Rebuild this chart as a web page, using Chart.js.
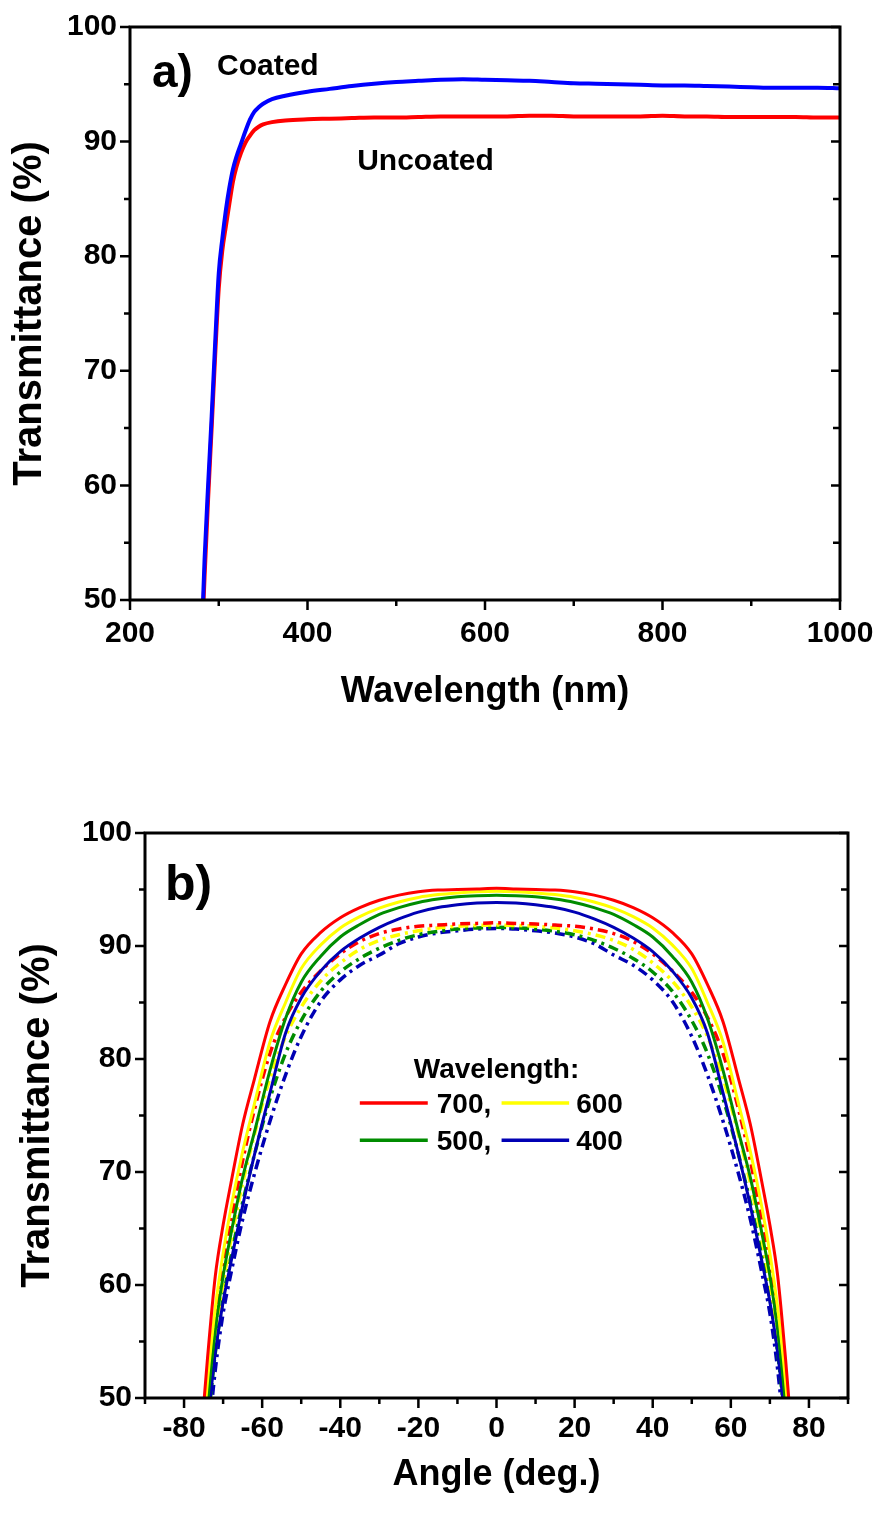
<!DOCTYPE html>
<html>
<head>
<meta charset="utf-8">
<script src="https://cdn.jsdelivr.net/npm/chart.js@4.4.1/dist/chart.umd.min.js"></script>
<style>
html, body { margin: 0; padding: 0; background: #fff; }
#wrap { position: relative; width: 879px; height: 1515px; }
canvas { position: absolute; left: 0; }
#chartA { top: 0; }
#chartB { top: 740px; }
</style>
</head>
<body>
<div id="wrap">
  <canvas id="chartA" width="879" height="740"></canvas>
  <canvas id="chartB" width="879" height="775"></canvas>
</div>
<script>
// panel a) - transmittance vs wavelength
var wavelengths = [280, 284, 288, 292, 296, 300, 304, 308, 312, 316, 320, 325, 330, 335, 340, 345, 350, 360, 375, 400, 425,
    450, 475, 500, 525, 550, 575, 600, 625, 650, 675, 700, 725, 750, 775, 800, 825, 850, 875, 900, 925, 950, 975, 1000];
var coated = [45, 53.5, 60, 66, 72.5, 78.5, 81.5, 84.0, 86.0, 87.6, 88.7, 89.8, 90.9, 91.9, 92.6, 93.0, 93.3, 93.7, 94.0, 94.35, 94.6,
    94.85, 95.05, 95.2, 95.3, 95.4, 95.45, 95.4, 95.35, 95.3, 95.2, 95.1, 95.05, 95.0, 94.95, 94.9, 94.9, 94.85, 94.8, 94.75, 94.7, 94.7, 94.7, 94.65];
var uncoated = [44.5, 52, 58.8, 65, 71.4, 77.2, 80.5, 82.6, 84.6, 86.5, 87.8, 89.0, 89.9, 90.5, 91.0, 91.3, 91.5, 91.7, 91.85, 91.95, 92.0,
    92.05, 92.1, 92.1, 92.15, 92.2, 92.2, 92.2, 92.2, 92.25, 92.25, 92.2, 92.2, 92.2, 92.2, 92.25, 92.2, 92.2, 92.15, 92.15, 92.15, 92.15, 92.1, 92.1];
var wlTicks = [200, 400, 600, 800, 1000];
var wlMinor = [300, 500, 700, 900];

// panel b) - transmittance vs angle, solid = coated, dash-dot = uncoated
var angles = [-78, -76, -74, -72, -70, -68, -65, -62, -58, -54, -50, -45, -40, -35, -30, -25, -20, -15, -10, -5, 0,
    5, 10, 15, 20, 25, 30, 35, 40, 45, 50, 54, 58, 62, 65, 68, 70, 72, 74, 76, 78];
var coated700 = [36, 45, 53.5, 60.8, 65.3, 69.0, 74.2, 78.2, 83.3, 86.6, 89.3, 91.2, 92.5, 93.4, 94.05, 94.5, 94.8, 94.95, 95.0, 95.05, 95.1,
    95.05, 95.0, 94.95, 94.8, 94.5, 94.05, 93.4, 92.5, 91.2, 89.3, 86.6, 83.3, 78.2, 74.2, 69.0, 65.3, 60.8, 53.5, 45, 36];
var coated600 = [35, 43, 51.5, 58.0, 62.8, 66.8, 71.8, 76.0, 81.5, 85.0, 88.0, 90.1, 91.6, 92.6, 93.35, 93.9, 94.3, 94.55, 94.7, 94.8, 94.85,
    94.8, 94.7, 94.55, 94.3, 93.9, 93.35, 92.6, 91.6, 90.1, 88.0, 85.0, 81.5, 76.0, 71.8, 66.8, 62.8, 58.0, 51.5, 43, 35];
var coated500 = [33, 41, 49.5, 56.0, 60.8, 64.5, 69.5, 73.5, 79.0, 83.6, 86.8, 89.1, 90.8, 91.9, 92.8, 93.4, 93.85, 94.15, 94.35, 94.45, 94.5,
    94.45, 94.35, 94.15, 93.85, 93.4, 92.8, 91.9, 90.8, 89.1, 86.8, 83.6, 79.0, 73.5, 69.5, 64.5, 60.8, 56.0, 49.5, 41, 33];
var coated400 = [32, 40, 47.5, 54.0, 58.5, 62.0, 67.0, 71.5, 77.0, 82.3, 85.4, 87.8, 89.5, 90.7, 91.65, 92.4, 93.0, 93.4, 93.65, 93.8, 93.85,
    93.8, 93.65, 93.4, 93.0, 92.4, 91.65, 90.7, 89.5, 87.8, 85.4, 82.3, 77.0, 71.5, 67.0, 62.0, 58.5, 54.0, 47.5, 40, 32];
var bare700 = [34, 42.5, 50.5, 56.8, 61.5, 65.5, 71.0, 75.5, 80.5, 83.7, 85.9, 87.8, 89.3, 90.4, 91.1, 91.5, 91.75, 91.85, 91.95, 92.0, 92.05,
    92.0, 91.95, 91.85, 91.75, 91.5, 91.1, 90.4, 89.3, 87.8, 85.9, 83.7, 80.5, 75.5, 71.0, 65.5, 61.5, 56.8, 50.5, 42.5, 34];
var bare600 = [33, 41, 49.0, 55.5, 60.2, 64.0, 69.0, 73.3, 78.3, 82.0, 84.6, 86.9, 88.5, 89.7, 90.5, 91.0, 91.35, 91.6, 91.75, 91.82, 91.85,
    91.82, 91.75, 91.6, 91.35, 91.0, 90.5, 89.7, 88.5, 86.9, 84.6, 82.0, 78.3, 73.3, 69.0, 64.0, 60.2, 55.5, 49.0, 41, 33];
var bare500 = [31.5, 39.5, 47.3, 54.0, 58.8, 62.5, 67.3, 71.5, 76.5, 80.5, 83.4, 86.0, 87.7, 88.9, 89.8, 90.5, 91.0, 91.3, 91.5, 91.6, 91.65,
    91.6, 91.5, 91.3, 91.0, 90.5, 89.8, 88.9, 87.7, 86.0, 83.4, 80.5, 76.5, 71.5, 67.3, 62.5, 58.8, 54.0, 47.3, 39.5, 31.5];
var bare400 = [30, 38, 45.5, 52.5, 57.5, 61.0, 65.8, 69.8, 74.5, 78.6, 82.0, 85.1, 87.0, 88.3, 89.2, 90.2, 90.8, 91.15, 91.35, 91.5, 91.55,
    91.5, 91.35, 91.15, 90.8, 90.2, 89.2, 88.3, 87.0, 85.1, 82.0, 78.6, 74.5, 69.8, 65.8, 61.0, 57.5, 52.5, 45.5, 38, 30];
var angleTicks = [-80, -60, -40, -20, 0, 20, 40, 60, 80];
var angleMinor = [-90, -70, -50, -30, -10, 10, 30, 50, 70, 90];

var tTicks = [50, 60, 70, 80, 90, 100];
var tMinor = [55, 65, 75, 85, 95];

var FONT = "'Liberation Sans', Arial, sans-serif";

function pairs(xs, ys) {
    var out = [];
    for (var i = 0; i < xs.length; ++i) {
        out.push({x: xs[i], y: ys[i]});
    }
    return out;
}

// frame box plus outward ticks on left/bottom, inward ticks on the right
var frameTicks = {
    id: 'frameTicks',
    afterDraw: function(chart, args, opts) {
        var ctx = chart.ctx;
        var a = chart.chartArea;
        var xs = chart.scales.x;
        var ys = chart.scales.y;
        ctx.save();
        ctx.strokeStyle = '#000';
        ctx.lineWidth = 2.5;
        ctx.beginPath();
        opts.xMajor.forEach(function(v) {
            var px = xs.getPixelForValue(v);
            ctx.moveTo(px, a.bottom); ctx.lineTo(px, a.bottom + 10);
        });
        opts.xMinor.forEach(function(v) {
            var px = xs.getPixelForValue(v);
            ctx.moveTo(px, a.bottom); ctx.lineTo(px, a.bottom + 6);
        });
        opts.yMajor.forEach(function(v) {
            var py = ys.getPixelForValue(v);
            ctx.moveTo(a.left, py); ctx.lineTo(a.left - 10, py);
            ctx.moveTo(a.right, py); ctx.lineTo(a.right - 9, py);
        });
        opts.yMinor.forEach(function(v) {
            var py = ys.getPixelForValue(v);
            ctx.moveTo(a.left, py); ctx.lineTo(a.left - 6, py);
            ctx.moveTo(a.right, py); ctx.lineTo(a.right - 7, py);
        });
        ctx.stroke();
        ctx.lineWidth = 3;
        ctx.strokeRect(a.left, a.top, a.right - a.left, a.bottom - a.top);
        ctx.restore();
    }
};

// text labels and legend samples placed in data coordinates
var notes = {
    id: 'notes',
    afterDraw: function(chart, args, opts) {
        var ctx = chart.ctx;
        var xs = chart.scales.x;
        var ys = chart.scales.y;
        ctx.save();
        ctx.fillStyle = '#000';
        ctx.textBaseline = 'alphabetic';
        (opts.texts || []).forEach(function(t) {
            ctx.font = 'bold ' + t.size + 'px ' + FONT;
            ctx.textAlign = t.align || 'left';
            ctx.fillText(t.text, xs.getPixelForValue(t.x), ys.getPixelForValue(t.y));
        });
        ctx.lineWidth = 3.5;
        (opts.samples || []).forEach(function(s) {
            ctx.strokeStyle = s.color;
            ctx.beginPath();
            ctx.moveTo(xs.getPixelForValue(s.x0), ys.getPixelForValue(s.y));
            ctx.lineTo(xs.getPixelForValue(s.x1), ys.getPixelForValue(s.y));
            ctx.stroke();
        });
        ctx.restore();
    }
};

function noPad(scale) {
    scale.paddingLeft = 0;
    scale.paddingRight = 0;
    scale.paddingTop = 0;
    scale.paddingBottom = 0;
}

function axisY(width, titlePad) {
    return {
        type: 'linear', min: 50, max: 100,
        afterFit: function(scale) { scale.width = width; noPad(scale); },
        afterBuildTicks: function(scale) { scale.ticks = tTicks.map(function(v) { return {value: v}; }); },
        grid: { display: false, drawTicks: false },
        border: { display: false },
        ticks: { color: '#000', padding: 13, font: { family: FONT, size: 30, weight: 'bold' },
                 callback: function(v) { return String(v); } },
        title: { display: true, text: 'Transmittance (%)', color: '#000', padding: { top: titlePad, bottom: 0 },
                 font: { family: FONT, size: 40, weight: 'bold', lineHeight: 1 } }
    };
}

function axisX(min, max, tickVals, height, title, tickPad, titlePad) {
    return {
        type: 'linear', min: min, max: max,
        afterFit: function(scale) { scale.height = height; noPad(scale); },
        afterBuildTicks: function(scale) { scale.ticks = tickVals.map(function(v) { return {value: v}; }); },
        grid: { display: false, drawTicks: false },
        border: { display: false },
        ticks: { color: '#000', padding: tickPad, maxRotation: 0, autoSkip: false,
                 font: { family: FONT, size: 30, weight: 'bold' },
                 callback: function(v) { return String(v); } },
        title: { display: true, text: title, color: '#000', padding: { top: 0, bottom: titlePad },
                 font: { family: FONT, size: 36, weight: 'bold', lineHeight: 1 } }
    };
}

var baseOptions = {
    responsive: false,
    animation: false,
    events: [],
    elements: { point: { radius: 0 }, line: { cubicInterpolationMode: 'monotone' } }
};

new Chart(document.getElementById('chartA'), {
    type: 'line',
    data: {
        datasets: [
            { label: 'Coated', data: pairs(wavelengths, coated), borderColor: '#0000ff', borderWidth: 4 },
            { label: 'Uncoated', data: pairs(wavelengths, uncoated), borderColor: '#ff0000', borderWidth: 4 }
        ]
    },
    options: Object.assign({}, baseOptions, {
        layout: { autoPadding: false, padding: { top: 27, right: 39, left: 0, bottom: 0 } },
        scales: { x: axisX(200, 1000, wlTicks, 140, 'Wavelength (nm)', 16, 30), y: axisY(130, 10) },
        plugins: {
            legend: { display: false }, tooltip: { enabled: false },
            frameTicks: { xMajor: wlTicks, xMinor: wlMinor, yMajor: tTicks, yMinor: tMinor },
            notes: {
                texts: [
                    { text: 'a)', x: 224.8, y: 94.76, size: 46 },
                    { text: 'Coated', x: 298, y: 95.8, size: 30 },
                    { text: 'Uncoated', x: 456, y: 87.5, size: 30 }
                ]
            }
        }
    }),
    plugins: [frameTicks, notes]
});

var dashDot = [10, 5, 3, 5];
new Chart(document.getElementById('chartB'), {
    type: 'line',
    data: {
        datasets: [
            { label: '700', data: pairs(angles, coated700), borderColor: '#ff0000', borderWidth: 3 },
            { label: '600', data: pairs(angles, coated600), borderColor: '#ffff00', borderWidth: 3 },
            { label: '500', data: pairs(angles, coated500), borderColor: '#008c00', borderWidth: 3 },
            { label: '400', data: pairs(angles, coated400), borderColor: '#0000b4', borderWidth: 3 },
            { label: '700 uncoated', data: pairs(angles, bare700), borderColor: '#ff0000', borderWidth: 3.5, borderDash: dashDot },
            { label: '600 uncoated', data: pairs(angles, bare600), borderColor: '#ffff00', borderWidth: 3.5, borderDash: dashDot },
            { label: '500 uncoated', data: pairs(angles, bare500), borderColor: '#008c00', borderWidth: 3.5, borderDash: dashDot },
            { label: '400 uncoated', data: pairs(angles, bare400), borderColor: '#0000b4', borderWidth: 3.5, borderDash: dashDot }
        ]
    },
    options: Object.assign({}, baseOptions, {
        layout: { autoPadding: false, padding: { top: 93, right: 31, left: 0, bottom: 0 } },
        scales: { x: axisX(-90, 90, angleTicks, 117, 'Angle (deg.)', 13, 22), y: axisY(145, 18) },
        plugins: {
            legend: { display: false }, tooltip: { enabled: false },
            frameTicks: { xMajor: angleTicks, xMinor: angleMinor, yMajor: tTicks, yMinor: tMinor },
            notes: {
                texts: [
                    { text: 'b)', x: -84.9, y: 94.07, size: 50 },
                    { text: 'Wavelength:', x: 0, y: 78.3, size: 28, align: 'center' },
                    { text: '700,', x: -15.3, y: 75.2, size: 28 },
                    { text: '600', x: 20.4, y: 75.2, size: 28 },
                    { text: '500,', x: -15.3, y: 71.95, size: 28 },
                    { text: '400', x: 20.4, y: 71.95, size: 28 }
                ],
                samples: [
                    { color: '#ff0000', x0: -35, x1: -17.6, y: 76.1 },
                    { color: '#ffff00', x0: 1.3, x1: 18.6, y: 76.1 },
                    { color: '#008c00', x0: -35, x1: -17.6, y: 72.8 },
                    { color: '#0000b4', x0: 1.3, x1: 18.6, y: 72.8 }
                ]
            }
        }
    }),
    plugins: [frameTicks, notes]
});
</script>
</body>
</html>
